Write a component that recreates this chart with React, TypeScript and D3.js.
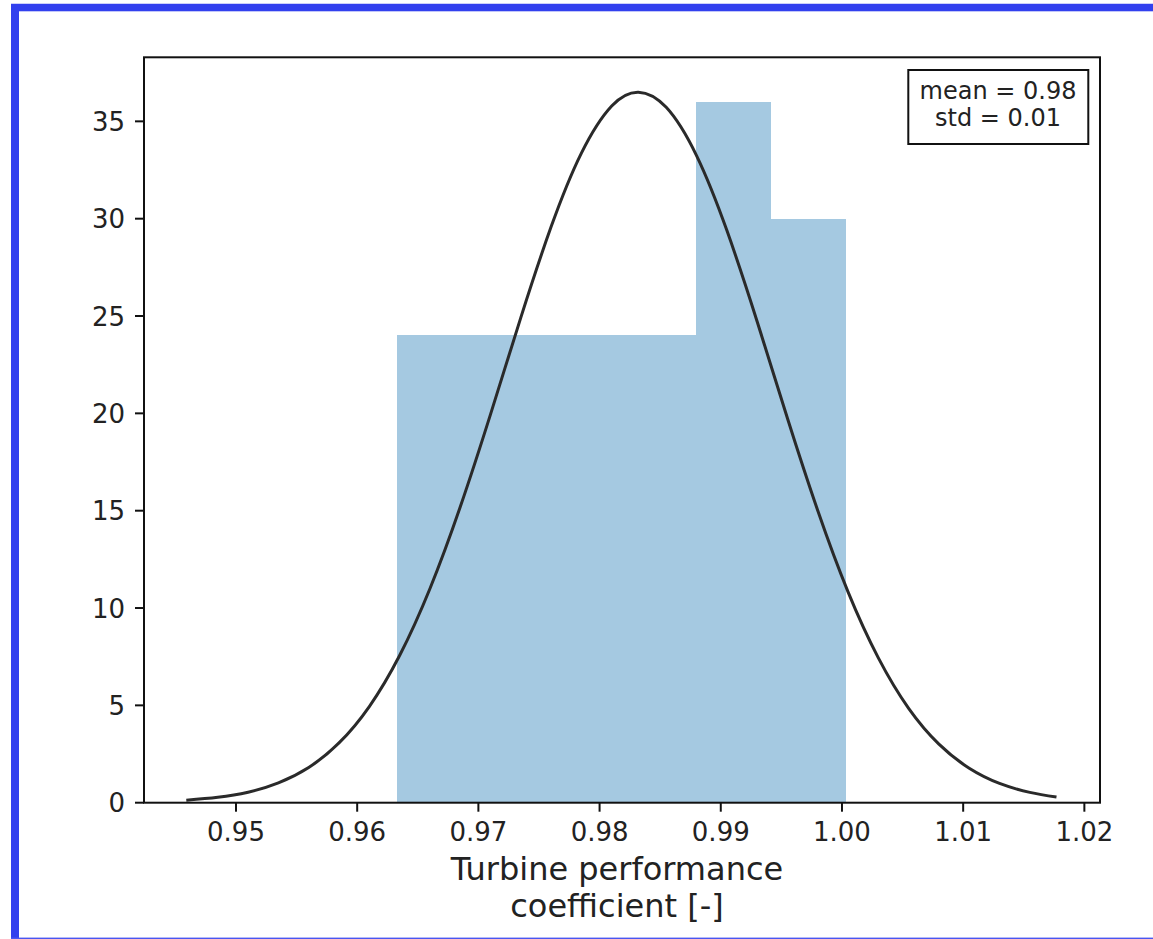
import React from "react";
import * as d3 from "d3";

// Histogram bins (edges) and counts
const binEdges = [0.96331, 0.96948, 0.97565, 0.98182, 0.98799, 0.99416, 1.00033];
const binCounts = [24, 24, 24, 24, 36, 30];

// Fitted curve
const curveX = [0.9459, 0.9485, 0.951, 0.9535, 0.956, 0.9585, 0.961, 0.9635, 0.966, 0.9685, 0.971, 0.9735, 0.976, 0.9785, 0.981, 0.9832, 0.9855, 0.988, 0.9905, 0.993, 0.9955, 0.998, 1.0005, 1.003, 1.0055, 1.008, 1.0105, 1.013, 1.0155, 1.0177];
const curveY = [0.13, 0.28, 0.54, 1.02, 1.81, 3.07, 4.94, 7.56, 10.99, 15.19, 19.95, 24.92, 29.58, 33.37, 35.79, 36.5, 35.72, 33.24, 29.4, 24.72, 19.75, 15.01, 10.83, 7.44, 4.85, 3.01, 1.77, 0.99, 0.53, 0.29];

const xTicks = [0.95, 0.96, 0.97, 0.98, 0.99, 1.0, 1.01, 1.02];
const yTicks = [0, 5, 10, 15, 20, 25, 30, 35];
const legendLines = ["mean = 0.98", "std = 0.01"];
const xLabelLines = ["Turbine performance", "coefficient [-]"];

const W = 1153;
const H = 939;
const FONT = "'DejaVu Sans', sans-serif";

export default function App() {
  const left = 144, right = 1100, top = 57.3, bottom = 802.7;
  const x = d3.scaleLinear().domain([0.94241, 1.02129]).range([left, right]);
  const y = d3.scaleLinear().domain([0, 38.29]).range([bottom, top]);

  const pts = curveX.map((v, i) => [v, curveY[i]] as [number, number]);
  const line = d3
    .line<[number, number]>()
    .x((d) => x(d[0]))
    .y((d) => y(d[1]))
    .curve(d3.curveNatural);

  const legendCx = 998;
  const xCenter = 617;

  return (
    <svg
      width={W}
      height={H}
      style={{ position: "absolute", left: 0, top: 0, background: "#fff" }}
      fontFamily={FONT}
    >
      {/* frame */}
      <rect x={11} y={3.3} width={W - 11} height={0.8} fill="#b8bdf8" />
      <rect x={11} y={4} width={W - 11} height={7.3} fill="#3240ee" />
      <rect x={11} y={4} width={8} height={H - 4} fill="#3240ee" />
      <rect x={11} y={937.6} width={W - 11} height={1.4} fill="#4a56f0" />

      {/* bars */}
      {binCounts.map((c, i) => (
        <rect
          key={i}
          x={x(binEdges[i])}
          y={y(c)}
          width={x(binEdges[i + 1]) - x(binEdges[i])}
          height={y(0) - y(c)}
          fill="#a5c9e1"
          shapeRendering="crispEdges"
        />
      ))}

      {/* curve */}
      <path d={line(pts) || ""} fill="none" stroke="#2a2a2a" strokeWidth={3} />

      {/* spines */}
      <rect x={left} y={top} width={right - left} height={bottom - top} fill="none" stroke="#111" strokeWidth={2} />

      {/* x ticks */}
      {xTicks.map((t) => (
        <g key={t}>
          <line x1={x(t)} x2={x(t)} y1={bottom} y2={bottom + 9} stroke="#111" strokeWidth={2} />
          <text x={x(t)} y={841} fontSize={26} textAnchor="middle" fill="#222">
            {d3.format(".2f")(t)}
          </text>
        </g>
      ))}

      {/* y ticks */}
      {yTicks.map((t) => (
        <g key={t}>
          <line x1={left - 9} x2={left} y1={y(t)} y2={y(t)} stroke="#111" strokeWidth={2} />
          <text x={125} y={y(t) + 9.5} fontSize={26} textAnchor="end" fill="#222">
            {t}
          </text>
        </g>
      ))}

      {/* x label */}
      {xLabelLines.map((s, i) => (
        <text key={s} x={xCenter} y={880 + i * 37} fontSize={32} textAnchor="middle" fill="#222">
          {s}
        </text>
      ))}

      {/* legend box */}
      <rect x={908.3} y={70} width={180} height={74} fill="#fff" stroke="#111" strokeWidth={2} />
      {legendLines.map((s, i) => (
        <text key={s} x={legendCx} y={99 + i * 26.5} fontSize={24} textAnchor="middle" fill="#222">
          {s}
        </text>
      ))}
    </svg>
  );
}
